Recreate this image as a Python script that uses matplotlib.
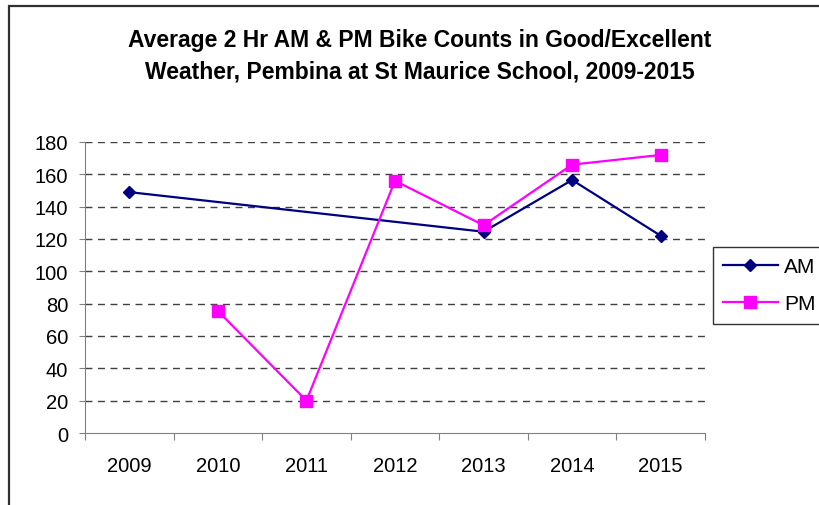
import numpy as np
import matplotlib
matplotlib.use("Agg")
import matplotlib.pyplot as plt
from matplotlib.patches import Rectangle

# данные
years = ["2009", "2010", "2011", "2012", "2013", "2014", "2015"]
am_counts = [149, np.nan, np.nan, np.nan, 124.5, 156.5, 122]
pm_counts = [np.nan, 75.5, 20, 156, 128.5, 166, 172]
y_ticks = [0, 20, 40, 60, 80, 100, 120, 140, 160, 180]

plt.rcParams['font.family'] = ['Liberation Sans', 'DejaVu Sans']

W, H = 820, 506
fig = plt.figure(figsize=(W / 100, H / 100), dpi=100)

# рамка области диаграммы (уходит за край картинки)
fig.patches.append(Rectangle((8.5 / W, -0.1), 1.2, 1 - 6.5 / H + 0.1,
                             transform=fig.transFigure, fill=False,
                             edgecolor='#303030', linewidth=1.6))

left, right, top, bottom = 85, 705, 143, 434
ax = fig.add_axes([left / W, 1 - bottom / H, (right - left) / W, (bottom - top) / H])

x = np.arange(len(years))
am = np.array(am_counts, dtype=float)
pm = np.array(pm_counts, dtype=float)
m_am = ~np.isnan(am)
m_pm = ~np.isnan(pm)

ax.plot(x[m_am], am[m_am], color='#000080', marker='D', markersize=6.5,
        linewidth=1.6, label='AM', zorder=3)
ax.plot(x[m_pm], pm[m_pm], color='#FF00FF', marker='s', markersize=8,
        linewidth=1.6, label='PM', zorder=4)

ax.set_xlim(-0.5, len(years) - 0.5)
ax.set_ylim(0, 180)
ax.set_yticks(y_ticks)
ax.set_yticklabels([str(v) for v in y_ticks], fontsize=14.5)

# подписи категорий по центрам, засечки на границах
ax.set_xticks(np.arange(len(years) + 1) - 0.5)
ax.set_xticklabels([])
ax.set_xticks(x, minor=True)
ax.set_xticklabels(years, minor=True, fontsize=14.5)
ax.tick_params(axis='x', which='minor', length=0, pad=16.5)
ax.tick_params(axis='x', which='major', length=5, color='#808080', direction='out')
ax.tick_params(axis='y', length=4.5, color='#808080', direction='out', pad=7.5)

for s in ['top', 'right']:
    ax.spines[s].set_visible(False)
ax.spines['left'].set_color('#808080')
ax.spines['bottom'].set_color('#808080')

for v in y_ticks[1:]:
    ax.axhline(v, color='#404040', linewidth=1.0, linestyle=(0, (5, 4)), zorder=1)

fig.text(420 / W, 1 - 41 / H, "Average 2 Hr AM & PM Bike Counts in Good/Excellent",
         ha='center', va='center', fontsize=16.5, fontweight='bold')
fig.text(420 / W, 1 - 72 / H, "Weather, Pembina at St Maurice School, 2009-2015",
         ha='center', va='center', fontsize=16.5, fontweight='bold')

leg = fig.legend(loc='upper left', bbox_to_anchor=(713 / W, 1 - 248 / H),
                 fontsize=15, frameon=True, fancybox=False, handlelength=2.6,
                 borderpad=0.5, labelspacing=0.85, handletextpad=0.3,
                 borderaxespad=0)
leg.get_frame().set_edgecolor('black')
leg.get_frame().set_linewidth(1.0)

fig.savefig("out.png", dpi=100)
